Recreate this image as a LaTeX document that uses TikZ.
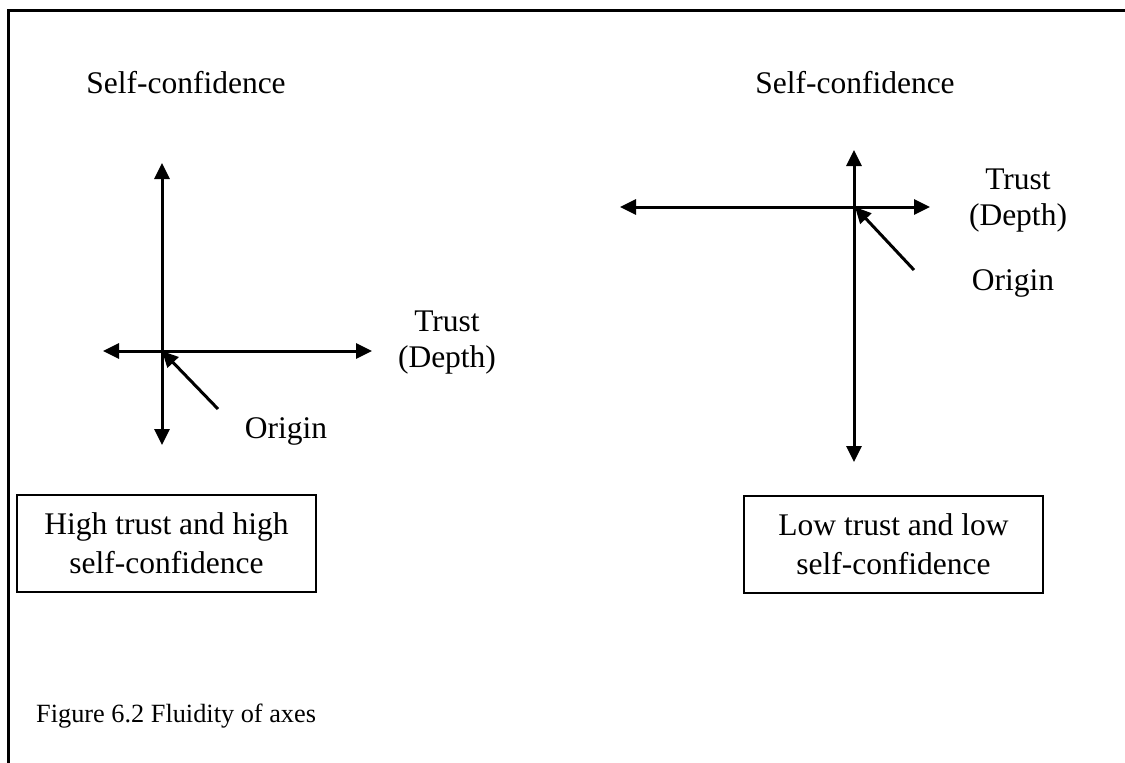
\documentclass[tikz,border=0pt]{standalone}
\usepackage{fontspec}
\setmainfont{Liberation Serif}
\usetikzlibrary{arrows.meta}

\tikzset{
  axis/.style={line width=3pt, {Triangle[length=16pt,width=15pt]}-{Triangle[length=16pt,width=15pt]}},
  pointer/.style={line width=3pt, -{Triangle[length=16pt,width=15pt]}},
  lbl/.style={font=\fontsize{31.5}{36}\selectfont, inner sep=0pt, align=center},
  caption/.style={font=\fontsize{26.3}{30}\selectfont, inner sep=0pt, anchor=base west},
  casebox/.style={draw, line width=2pt, minimum width=299pt, minimum height=97pt,
                  inner sep=0pt, align=center, font=\fontsize{31.5}{39}\selectfont},
  frame/.style={line width=3pt}
}

\begin{document}
\begin{tikzpicture}[x=1pt,y=-1pt]
  % page area
  \useasboundingbox (0,0) rectangle (1125,763);
  \fill[white] (0,0) rectangle (1125,763);

  % open frame: left and top edges
  \coordinate (fbl) at (8,763);
  \coordinate (ftl) at (8,10);
  \coordinate (ftr) at (1125,10);
  \draw[frame] (fbl) -- (ftl) -- (ftr);

  % ---- left chart: high trust, high self-confidence ----
  \coordinate (Lo)  at (162,351);
  \coordinate (Lup) at (162,163);
  \coordinate (Ldn) at (162,445);
  \coordinate (Llf) at (103,351);
  \coordinate (Lrt) at (372,351);
  \coordinate (Lpt) at (218,409);
  \draw[axis] (Ldn) -- (Lup);
  \draw[axis] (Llf) -- (Lrt);
  \draw[pointer] (Lpt) -- (Lo);

  \node[lbl, anchor=base] (Lsc) at (186,93) {Self-confidence};
  \node[lbl] (Ltr) at (447,343) {Trust\\(Depth)};
  \node[lbl, anchor=base] (Lor) at (286,438) {Origin};
  \node[casebox] (Lbox) at (166.5,543.5) {High trust and high\\self-confidence};

  % ---- right chart: low trust, low self-confidence ----
  \coordinate (Ro)  at (855,207);
  \coordinate (Rup) at (854,150);
  \coordinate (Rdn) at (854,462);
  \coordinate (Rlf) at (620,207);
  \coordinate (Rrt) at (930,207);
  \coordinate (Rpt) at (914,270);
  \draw[axis] (Rdn) -- (Rup);
  \draw[axis] (Rlf) -- (Rrt);
  \draw[pointer] (Rpt) -- (Ro);

  \node[lbl, anchor=base] (Rsc) at (855,93) {Self-confidence};
  \node[lbl] (Rtr) at (1018,201) {Trust\\(Depth)};
  \node[lbl, anchor=base] (Ror) at (1013,290) {Origin};
  \node[casebox] (Rbox) at (893.5,544) {Low trust and low\\self-confidence};

  % caption
  \node[caption] (cap) at (36,722) {Figure 6.2 Fluidity of axes};
\end{tikzpicture}
\end{document}
